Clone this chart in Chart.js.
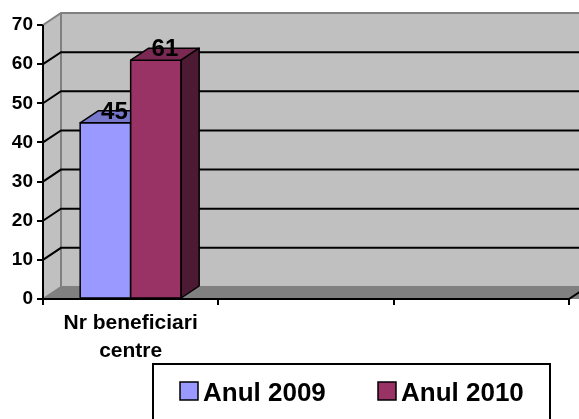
<!DOCTYPE html>
<html>
<head>
<meta charset="utf-8">
<script src="https://cdn.jsdelivr.net/npm/chart.js@4/dist/chart.umd.min.js"></script>
<style>
  html, body { margin: 0; padding: 0; background: #fff; }
  #wrap { width: 579px; height: 419px; }
</style>
</head>
<body>
<div id="wrap"><canvas id="c" width="579" height="419"></canvas></div>
<script>
// ---- data ----
const categories = [["Nr beneficiari", "centre"], "", ""];
const seriesNames = ["Anul 2009", "Anul 2010"];
const values2009 = [45, null, null];
const values2010 = [61, null, null];
const yMin = 0, yMax = 70, yStep = 10;

// ---- style ----
const FONT = '"Liberation Sans", Arial, sans-serif';
const DX = 18, DY = -12;
const frontColors = ["#9999ff", "#993366"];
const topColors = ["#7777cc", "#7a2952"];
const sideColors = ["#5c5c99", "#4d1a33"];
const WALL = "#c0c0c0", FLOOR = "#808080", EDGE = "#808080";

const threeD = {
  id: "threeD",
  beforeDatasetsDraw(chart) {
    const ctx = chart.ctx, a = chart.chartArea, y = chart.scales.y;
    const L = a.left, R = a.right, T = a.top, B = a.bottom;
    ctx.save();
    ctx.fillStyle = WALL;
    ctx.fillRect(L + DX, T + DY, (R - L) + 20, B - T);
    ctx.beginPath();
    ctx.moveTo(L, T); ctx.lineTo(L + DX, T + DY); ctx.lineTo(L + DX, B + DY); ctx.lineTo(L, B);
    ctx.closePath(); ctx.fill();
    ctx.fillStyle = FLOOR;
    ctx.beginPath();
    ctx.moveTo(L, B); ctx.lineTo(L + DX, B + DY); ctx.lineTo(R + DX + 20, B + DY); ctx.lineTo(R + 20, B);
    ctx.closePath(); ctx.fill();
    ctx.strokeStyle = EDGE; ctx.lineWidth = 2;
    ctx.beginPath();
    ctx.moveTo(L, T); ctx.lineTo(L + DX, T + DY); ctx.lineTo(R + DX + 20, T + DY);
    ctx.moveTo(L + DX, T + DY); ctx.lineTo(L + DX, B + DY); ctx.lineTo(R + DX + 20, B + DY);
    ctx.moveTo(L, B); ctx.lineTo(L + DX, B + DY);
    ctx.stroke();
    ctx.strokeStyle = "#000"; ctx.lineWidth = 2;
    ctx.beginPath();
    for (let v = yMin + yStep; v < yMax; v += yStep) {
      const py = y.getPixelForValue(v);
      ctx.moveTo(L, py); ctx.lineTo(L + DX, py + DY); ctx.lineTo(R + DX + 20, py + DY);
    }
    ctx.stroke();
    ctx.beginPath();
    ctx.moveTo(R, B); ctx.lineTo(R + DX, B + DY);
    ctx.stroke();
    ctx.restore();
  },
  afterDatasetsDraw(chart) {
    const ctx = chart.ctx, a = chart.chartArea;
    ctx.save();
    ctx.strokeStyle = "#000"; ctx.lineWidth = 1.5; ctx.lineJoin = "round";
    // painter's order: left bar first, each bar with front, top and side faces
    const bars = [];
    chart.data.datasets.forEach((ds, i) => {
      chart.getDatasetMeta(i).data.forEach((bar, k) => {
        if (ds.data[k] == null) return;
        bars.push({ i, v: ds.data[k], p: bar.getProps(["x", "y", "base", "width"], true) });
      });
    });
    bars.sort((m, n) => m.p.x - n.p.x);
    bars.forEach(({ i, p }) => {
      const x0 = p.x - p.width / 2, x1 = p.x + p.width / 2;
      ctx.fillStyle = frontColors[i];
      ctx.beginPath(); ctx.rect(x0, p.y, p.width, p.base - p.y); ctx.fill(); ctx.stroke();
      ctx.fillStyle = topColors[i];
      ctx.beginPath();
      ctx.moveTo(x0, p.y); ctx.lineTo(x0 + DX, p.y + DY); ctx.lineTo(x1 + DX, p.y + DY); ctx.lineTo(x1, p.y);
      ctx.closePath(); ctx.fill(); ctx.stroke();
      ctx.fillStyle = sideColors[i];
      ctx.beginPath();
      ctx.moveTo(x1, p.y); ctx.lineTo(x1 + DX, p.y + DY); ctx.lineTo(x1 + DX, p.base + DY); ctx.lineTo(x1, p.base);
      ctx.closePath(); ctx.fill(); ctx.stroke();
    });
    // axis lines
    ctx.strokeStyle = "#000"; ctx.lineWidth = 2;
    ctx.beginPath();
    ctx.moveTo(a.left, a.top); ctx.lineTo(a.left, a.bottom); ctx.lineTo(a.right, a.bottom);
    ctx.stroke();
    // value labels
    ctx.fillStyle = "#000";
    ctx.font = "bold 24px " + FONT;
    ctx.textAlign = "center"; ctx.textBaseline = "alphabetic";
    bars.forEach(({ v, p }) => ctx.fillText(String(v), p.x + DX / 2, p.y - 4));
    ctx.restore();
  },
  afterDraw(chart) {
    const ctx = chart.ctx;
    ctx.save();
    ctx.fillStyle = "#fff"; ctx.strokeStyle = "#000"; ctx.lineWidth = 2;
    ctx.fillRect(153, 364, 397, 80);
    ctx.strokeRect(153, 364, 397, 80);
    const xs = [180, 378];
    ctx.font = "bold 26px " + FONT;
    ctx.textAlign = "left"; ctx.textBaseline = "alphabetic";
    chart.data.datasets.forEach((ds, i) => {
      ctx.fillStyle = ds.backgroundColor;
      ctx.fillRect(xs[i], 382, 18, 18);
      ctx.lineWidth = 1.5; ctx.strokeStyle = "#000";
      ctx.strokeRect(xs[i], 382, 18, 18);
      ctx.fillStyle = "#000";
      ctx.fillText(ds.label, xs[i] + 23, 401);
    });
    ctx.restore();
  }
};

Chart.defaults.font.family = FONT;
new Chart(document.getElementById("c"), {
  type: "bar",
  data: {
    labels: categories,
    datasets: [
      { label: seriesNames[0], data: values2009, backgroundColor: frontColors[0], borderColor: "#000", borderWidth: 1.5 },
      { label: seriesNames[1], data: values2010, backgroundColor: frontColors[1], borderColor: "#000", borderWidth: 1.5 }
    ]
  },
  options: {
    responsive: false,
    animation: false,
    events: [],
    layout: { padding: { top: 25, right: 10, left: 0, bottom: 0 } },
    datasets: { bar: { categoryPercentage: 0.576, barPercentage: 1.0 } },
    plugins: { legend: { display: false }, tooltip: { enabled: false } },
    scales: {
      x: {
        offset: true,
        grid: { offset: true, drawOnChartArea: false, drawTicks: true, tickLength: 6, color: "#000", lineWidth: 2 },
        border: { display: false },
        ticks: { color: "#000", font: { size: 21, weight: "bold", lineHeight: 1.3 }, maxRotation: 0, autoSkip: false, padding: 5 },
        afterFit(s) { s.height = 120; }
      },
      y: {
        min: yMin, max: yMax,
        grid: { drawOnChartArea: false, drawTicks: true, tickLength: 6, color: "#000", lineWidth: 2 },
        border: { display: false },
        ticks: { stepSize: yStep, color: "#000", font: { size: 19, weight: "bold" }, padding: 4 },
        afterFit(s) { s.width = 43; }
      }
    }
  },
  plugins: [threeD]
});
</script>
</body>
</html>
